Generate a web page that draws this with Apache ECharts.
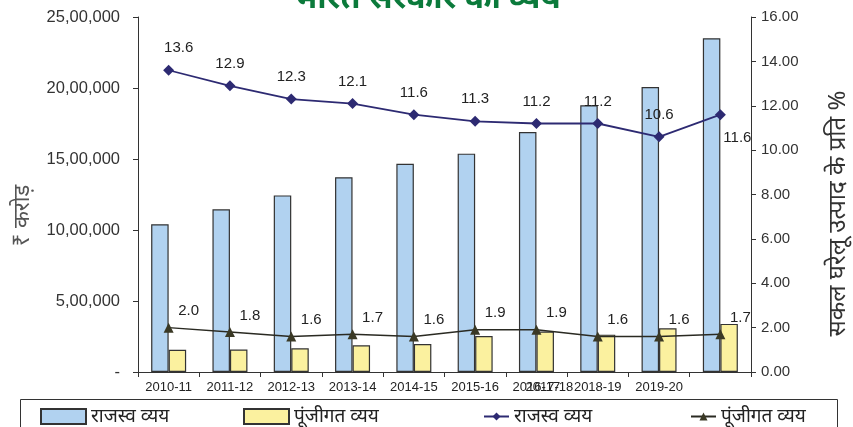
<!DOCTYPE html>
<html>
<head>
<meta charset="utf-8">
<script src="https://cdn.jsdelivr.net/npm/echarts@6/dist/echarts.min.js"></script>
<style>
  html, body { margin: 0; padding: 0; background: #fff; }
  #chart { width: 853px; height: 427px; }
</style>
</head>
<body>
<div id="chart"></div>
<script>
// tick labels as printed (the picture's labels drift after 2015-16)
const xLabels = ['2010-11', '2011-12', '2012-13', '2013-14', '2014-15', '2015-16', '2016-17', '2018-19', '2019-20', ''];
const xLabelsOverlap = ['', '', '', '', '', '', '2017-18', '', '', ''];

// ₹ crore
const revenueExp = [1040723, 1145785, 1243514, 1371772, 1466992, 1537761, 1690584, 1878833, 2007399, 2350604];
const capitalExp = [156605, 158580, 166858, 187675, 196681, 253022, 284610, 263140, 307714, 338569];

// % of GDP
const revenuePct = [13.6, 12.9, 12.3, 12.1, 11.6, 11.3, 11.2, 11.2, 10.6, 11.6];
const capitalPct = [2.0, 1.8, 1.6, 1.7, 1.6, 1.9, 1.9, 1.6, 1.6, 1.7];

const FONT = 'Arial, "Liberation Sans", "Noto Sans", sans-serif';
const HINDI = '"Noto Sans", Arial, "Liberation Sans", sans-serif';

// indian digit grouping: 25,00,000
const inr = (v) => {
  if (v === 0) return '-';
  const s = String(Math.round(v));
  const last3 = s.slice(-3);
  let rest = s.slice(0, -3);
  if (!rest) return last3;
  rest = rest.replace(/\B(?=(\d{2})+(?!\d))/g, ',');
  return rest + ',' + last3;
};

const chart = echarts.init(document.getElementById('chart'));

const revenuePctData = revenuePct.map((v, i) => {
  if (i === 0) return { value: v, label: { offset: [10, 0] } };
  if (i === revenuePct.length - 1) return { value: v, label: { position: 'bottom', distance: 4, offset: [17, 6] } };
  return v;
});

const option = {
  animation: false,
  textStyle: { fontFamily: FONT },
  title: {
    text: 'भारत सरकार का व्यय',
    left: 'center',
    top: -22,
    textStyle: { fontFamily: HINDI, fontSize: 32, fontWeight: 'bold', color: '#0b7a3b' }
  },
  graphic: [{
    type: 'rect',
    left: 18, top: 397,
    shape: { width: 817, height: 40 },
    style: { fill: 'none', stroke: '#333', lineWidth: 1 }
  }],
  legend: [
    { left: 35, top: 402, itemWidth: 45, itemHeight: 15, icon: 'rect', data: ['राजस्व व्यय'] },
    { left: 238, top: 402, itemWidth: 45, itemHeight: 15, icon: 'rect', data: ['पूंजीगत व्यय'] },
    { left: 478, top: 402, itemWidth: 25, itemHeight: 10, data: ['राजस्व व्यय (%)'] },
    { left: 685, top: 402, itemWidth: 25, itemHeight: 10, data: ['पूंजीगत व्यय (%)'] }
  ].map(l => Object.assign(l, {
    itemGap: 10,
    formatter: (name) => name.replace(' (%)', ''),
    textStyle: { fontFamily: HINDI, fontSize: 19, color: '#222' }
  })),
  grid: { left: 138, right: 102, top: 17, bottom: 55, containLabel: false, outerBoundsMode: 'none' },
  xAxis: [{
    type: 'category',
    data: xLabels,
    axisLine: { show: true, lineStyle: { color: '#333', width: 1 } },
    axisTick: { show: true, length: 5, lineStyle: { color: '#333' } },
    axisLabel: { color: '#222', fontSize: 13, margin: 9, interval: 0 }
  }, {
    type: 'category',
    data: xLabelsOverlap,
    position: 'bottom',
    axisLine: { show: false },
    axisTick: { show: false },
    axisLabel: { color: '#222', fontSize: 13, margin: 9, interval: 0, padding: [0, 0, 0, 26] }
  }],
  yAxis: [{
    type: 'value',
    min: 0, max: 2500000, interval: 500000,
    name: '₹ करोड़',
    nameLocation: 'middle',
    nameRotate: 90,
    nameGap: 104,
    nameTextStyle: { fontFamily: HINDI, fontSize: 22, color: '#555', padding: [0, 42, 0, 0] },
    splitLine: { show: false },
    axisLine: { show: true, lineStyle: { color: '#333' } },
    axisTick: { show: true, length: 5, lineStyle: { color: '#333' } },
    axisLabel: { color: '#333', fontSize: 16.5, margin: 18, formatter: inr }
  }, {
    type: 'value',
    min: 0, max: 16, interval: 2,
    position: 'right',
    name: 'सकल घरेलू उत्पाद के प्रति %',
    nameLocation: 'middle',
    nameRotate: 90,
    nameGap: 75,
    nameTextStyle: { fontFamily: HINDI, fontSize: 24, color: '#333', padding: [0, 38, 0, 0] },
    splitLine: { show: false },
    axisLine: { show: true, lineStyle: { color: '#333' } },
    axisTick: { show: true, length: 5, lineStyle: { color: '#333' } },
    axisLabel: { color: '#333', fontSize: 15, margin: 10, formatter: (v) => v.toFixed(2) }
  }],
  series: [
    {
      name: 'राजस्व व्यय',
      type: 'bar',
      data: revenueExp,
      barWidth: 17.5,
      barGap: '0%',
      itemStyle: { color: '#b1d2f0', borderColor: '#333', borderWidth: 1.2 }
    },
    {
      name: 'पूंजीगत व्यय',
      type: 'bar',
      data: capitalExp,
      barWidth: 17.5,
      barGap: '0%',
      itemStyle: { color: '#fbf19f', borderColor: '#333', borderWidth: 1.2 }
    },
    {
      name: 'राजस्व व्यय (%)',
      type: 'line',
      yAxisIndex: 1,
      data: revenuePctData,
      symbol: 'diamond',
      symbolSize: 11,
      lineStyle: { color: '#2d2a72', width: 1.8 },
      itemStyle: { color: '#2d2a72' },
      label: { show: true, position: 'top', distance: 9, color: '#222', fontSize: 15, formatter: (p) => p.value.toFixed(1) }
    },
    {
      name: 'पूंजीगत व्यय (%)',
      type: 'line',
      yAxisIndex: 1,
      data: capitalPct,
      symbol: 'triangle',
      symbolSize: 10,
      lineStyle: { color: '#2a2a22', width: 1.5 },
      itemStyle: { color: '#3a3925' },
      label: { show: true, position: 'top', distance: 4, offset: [20, 0], color: '#222', fontSize: 15, formatter: (p) => p.value.toFixed(1) }
    }
  ]
};

chart.setOption(option);
</script>
</body>
</html>
